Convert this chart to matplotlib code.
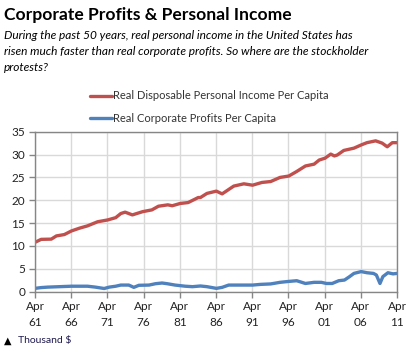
import matplotlib
matplotlib.use('Agg')
import matplotlib.pyplot as plt
import numpy as np

plt.rcParams['font.family'] = ['Lato', 'DejaVu Sans']

# Real disposable personal income per capita (thousand $)
income_year = [1961.25, 1962.1, 1963.5, 1964.2, 1965.3, 1966.3, 1967.4, 1968.5,
               1969.9, 1971.3, 1972.4, 1973.1, 1973.7, 1974.7, 1976.1, 1977.4,
               1978.3, 1979.6, 1980.2, 1981.3, 1982.4, 1983.8, 1984.1, 1985.0,
               1986.3, 1987.1, 1988.7, 1990.1, 1991.3, 1992.6, 1993.8, 1995.1,
               1996.3, 1997.4, 1998.6, 1999.8, 2000.5, 2001.3, 2002.1, 2002.6,
               2003.0, 2003.9, 2005.3, 2006.3, 2007.1, 2008.3, 2009.2, 2009.9,
               2010.6, 2011.25]
income = [10.8, 11.45, 11.5, 12.2, 12.5, 13.3, 13.9, 14.4,
          15.3, 15.7, 16.2, 17.1, 17.4, 16.8, 17.5, 17.9,
          18.7, 19.0, 18.8, 19.3, 19.5, 20.6, 20.6, 21.5,
          22.0, 21.4, 23.1, 23.6, 23.3, 23.9, 24.1, 25.0,
          25.3, 26.3, 27.5, 27.9, 28.8, 29.2, 30.1, 29.7,
          29.9, 30.9, 31.4, 32.1, 32.6, 33.0, 32.5, 31.7,
          32.6, 32.6]

# Real corporate profits per capita (thousand $)
profit_year = [1961.25, 1962.1, 1963.0, 1966.3, 1968.5, 1969.6, 1970.8, 1971.5,
               1972.4, 1973.1, 1974.2, 1974.9, 1975.6, 1977.0, 1977.9, 1978.8,
               1979.5, 1980.6, 1982.0, 1983.0, 1984.1, 1985.0, 1986.3, 1987.1,
               1988.0, 1989.6, 1991.3, 1992.4, 1993.8, 1995.1, 1996.3, 1997.4,
               1998.6, 1999.8, 2000.8, 2001.5, 2002.3, 2003.2, 2004.0, 2004.7,
               2005.3, 2006.3, 2007.1, 2008.0, 2008.4, 2008.9, 2009.3, 2010.0,
               2010.7, 2011.25]
profit = [0.73, 0.9, 1.0, 1.2, 1.2, 1.0, 0.7, 1.0,
          1.2, 1.45, 1.45, 0.95, 1.4, 1.45, 1.75, 1.9,
          1.75, 1.45, 1.2, 1.1, 1.25, 1.1, 0.73, 0.95,
          1.45, 1.45, 1.45, 1.6, 1.7, 2.05, 2.25, 2.4,
          1.8, 2.05, 2.05, 1.8, 1.8, 2.4, 2.55, 3.3,
          4.0, 4.4, 4.15, 4.0, 3.65, 1.8, 3.3, 4.15,
          3.9, 4.0]

tick_years = [1961, 1966, 1971, 1976, 1981, 1986, 1991, 1996, 2001, 2006, 2011]
tick_labels = ['Apr\n%02d' % (y % 100) for y in tick_years]

red = '#C0504D'
blue = '#4F81BD'
spine = '#868686'
grid = '#D9D9D9'

fig = plt.figure(figsize=(4.07, 3.49), dpi=100)
ax = fig.add_axes([35 / 407, 57.3 / 349, 362 / 407, 160 / 349])

l1, = ax.plot(income_year, income, color=red, lw=2.4, solid_capstyle='round',
              label='Real Disposable Personal Income Per Capita')
l2, = ax.plot(profit_year, profit, color=blue, lw=2.4, solid_capstyle='round',
              label='Real Corporate Profits Per Capita')

ax.set_xlim(1961.25, 2011.25)
ax.set_ylim(0, 35)
ax.set_yticks(np.arange(0, 36, 5))
ax.set_xticks([y + 0.25 for y in tick_years])
ax.set_xticklabels(tick_labels, linespacing=1.5)
ax.grid(True, color=grid, lw=1.0)
ax.set_axisbelow(True)
for s in ax.spines.values():
    s.set_color(spine)
    s.set_linewidth(1.0)
ax.tick_params(axis='both', colors=spine, length=4, width=1.0,
               labelsize=8.5, labelcolor='#222222', pad=3)

fig.legend(handles=[l1, l2], loc='upper left', bbox_to_anchor=(86 / 407, 1 - 86 / 349),
           frameon=False, fontsize=8, handlelength=1.9, handletextpad=0.1,
           labelspacing=1.0, borderaxespad=0, labelcolor='#333333')

fig.text(4 / 407, 1 - 7 / 349, 'Corporate Profits & Personal Income',
         fontsize=12.6, fontweight='bold', va='top', ha='left', color='black')
fig.text(4 / 407, 1 - 30 / 349,
         'During the past 50 years, real personal income in the United States has\n'
         'risen much faster than real corporate profits. So where are the stockholder\n'
         'protests?',
         fontsize=8.6, style='italic', va='top', ha='left', color='black',
         linespacing=1.55)
fig.text(4 / 407, 8 / 349, '\u25B2', fontsize=7, va='center', ha='left',
         family='DejaVu Sans', color='black')
fig.text(18 / 407, 8 / 349, 'Thousand $', fontsize=7.5, va='center', ha='left',
         color='#1F1A4F')

fig.savefig('out.png', dpi=100)
